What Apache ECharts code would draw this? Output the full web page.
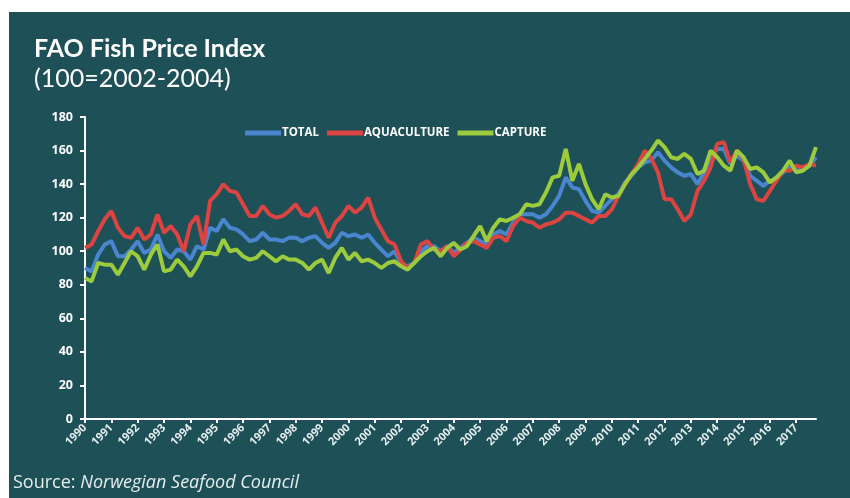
<!DOCTYPE html>
<html>
<head>
<meta charset="utf-8">
<script src="https://cdn.jsdelivr.net/npm/echarts@6/dist/echarts.min.js"></script>
<style>
  body { margin: 0; background: #ffffff; }
  #main { position: absolute; left: 9px; top: 12px; width: 841px; height: 486px; background: #1d5057; }
</style>
</head>
<body>
<div id="main"></div>
<script>
// quarterly readings, 1990 Q1 .. 2017 Q4
const years = ['1990', '1991', '1992', '1993', '1994', '1995', '1996', '1997', '1998', '1999',
  '2000', '2001', '2002', '2003', '2004', '2005', '2006', '2007', '2008', '2009',
  '2010', '2011', '2012', '2013', '2014', '2015', '2016', '2017']
const quarters = ['Q1', 'Q2', 'Q3', 'Q4']

const total = [
  90, 88, 98, 104, 106, 97, 97, 101, 106, 99, 101, 110, 100, 96, 101, 100,
  95, 103, 101, 114, 112, 119, 114, 113, 110, 106, 107, 111, 107, 107, 106, 108,
  108, 106, 108, 109, 105, 102, 105, 111, 109, 110, 108, 110, 105, 101, 97, 100,
  93, 91, 93, 100, 103, 103, 100, 103, 99, 102, 105, 108, 106, 104, 110, 112,
  110, 117, 122, 122, 122, 120, 122, 127, 133, 144, 138, 137, 130, 124, 123, 127,
  131, 134, 141, 145, 150, 153, 154, 159, 154, 150, 147, 145, 146, 140, 147, 155,
  161, 161, 152, 157, 154, 145, 142, 139, 142, 143, 147, 150, 148, 149, 151, 156
]
const aquaculture = [
  102, 104, 112, 119, 124, 114, 109, 108, 114, 107, 110, 122, 111, 115, 110, 100,
  116, 121, 104, 130, 134, 140, 136, 135, 128, 121, 121, 127, 122, 120, 121, 124,
  128, 122, 121, 126, 117, 108, 117, 121, 127, 123, 126, 132, 120, 113, 106, 104,
  94, 90, 93, 104, 106, 101, 100, 103, 97, 101, 105, 106, 104, 102, 108, 109,
  106, 115, 120, 118, 117, 114, 116, 117, 119, 123, 123, 121, 119, 117, 121, 121,
  125, 133, 140, 146, 152, 160, 155, 147, 131, 131, 125, 118, 122, 136, 142, 150,
  164, 165, 153, 160, 155, 140, 131, 130, 136, 142, 148, 148, 151, 150, 152, 151
]
const capture = [
  84, 82, 93, 92, 92, 86, 93, 100, 97, 89, 98, 104, 88, 89, 95, 91,
  85, 91, 99, 99, 98, 107, 100, 101, 97, 95, 96, 100, 97, 94, 97, 95,
  95, 93, 89, 93, 95, 87, 96, 102, 95, 99, 94, 95, 93, 90, 93, 94,
  91, 89, 93, 97, 100, 102, 97, 102, 105, 101, 103, 109, 115, 106, 114, 119,
  118, 120, 122, 128, 127, 128, 135, 144, 145, 161, 142, 152, 140, 131, 125, 134,
  132, 133, 140, 146, 150, 155, 160, 166, 162, 156, 155, 158, 155, 146, 148, 160,
  156, 151, 148, 160, 156, 149, 150, 147, 141, 144, 148, 154, 147, 148, 151, 162
]

const categories = []
years.forEach(y => quarters.forEach(q => categories.push(y + ' ' + q)))

const chart = echarts.init(document.getElementById('main'))

const option = {
  animation: false,
  title: {
    text: 'FAO Fish Price Index',
    subtext: '(100=2002-2004)',
    left: 20,
    top: 19,
    itemGap: 5,
    textStyle: { color: '#ffffff', fontFamily: 'Lato', fontWeight: 'bold', fontSize: 25 },
    subtextStyle: { color: '#ffffff', fontFamily: 'Lato', fontSize: 25 }
  },
  legend: {
    left: 231,
    top: 110,
    icon: 'rect',
    itemWidth: 36,
    itemHeight: 5,
    itemGap: 8,
    textStyle: { color: '#ffffff', fontFamily: 'Open Sans', fontWeight: 'bold', fontSize: 11.5, padding: [0, 0, 0, -4] },
    data: ['TOTAL', 'AQUACULTURE', 'CAPTURE']
  },
  grid: {
    left: 76,
    right: 34,
    top: 105,
    bottom: 79
  },
  xAxis: {
    type: 'category',
    boundaryGap: false,
    data: categories,
    axisLine: { lineStyle: { color: '#ffffff', width: 2 } },
    axisTick: { interval: 3, length: 4, lineStyle: { color: '#ffffff', width: 2 } },
    axisLabel: {
      interval: 3,
      rotate: 45,
      margin: 7,
      color: '#e6eeee',
      fontFamily: 'Open Sans',
      fontWeight: 'bold',
      fontSize: 11,
      formatter: v => v.slice(0, 4)
    }
  },
  yAxis: {
    type: 'value',
    min: 0,
    max: 180,
    interval: 20,
    splitLine: { show: false },
    axisLine: { show: true, lineStyle: { color: '#ffffff', width: 2 } },
    axisTick: { show: true, length: 5, lineStyle: { color: '#ffffff', width: 2 } },
    axisLabel: { color: '#ffffff', fontFamily: 'Open Sans', fontWeight: 'bold', fontSize: 12.5, margin: 12 }
  },
  series: [
    {
      name: 'TOTAL',
      type: 'line',
      data: total,
      showSymbol: false,
      itemStyle: { color: '#4a86cf' },
      lineStyle: { color: '#4a86cf', width: 4 }
    },
    {
      name: 'AQUACULTURE',
      type: 'line',
      data: aquaculture,
      showSymbol: false,
      itemStyle: { color: '#db4440' },
      lineStyle: { color: '#db4440', width: 4 }
    },
    {
      name: 'CAPTURE',
      type: 'line',
      data: capture,
      showSymbol: false,
      itemStyle: { color: '#9ccb3e' },
      lineStyle: { color: '#9ccb3e', width: 4 }
    }
  ],
  graphic: [
    {
      type: 'text',
      left: 4,
      top: 462,
      style: {
        rich: {
          a: { fill: '#e6eeee', fontFamily: 'Open Sans', fontSize: 18 },
          b: { fill: '#e6eeee', fontFamily: 'Open Sans', fontSize: 18, fontStyle: 'italic' }
        },
        text: '{a|Source: }{b|Norwegian Seafood Council}'
      }
    }
  ]
}

chart.setOption(option)
</script>
</body>
</html>
